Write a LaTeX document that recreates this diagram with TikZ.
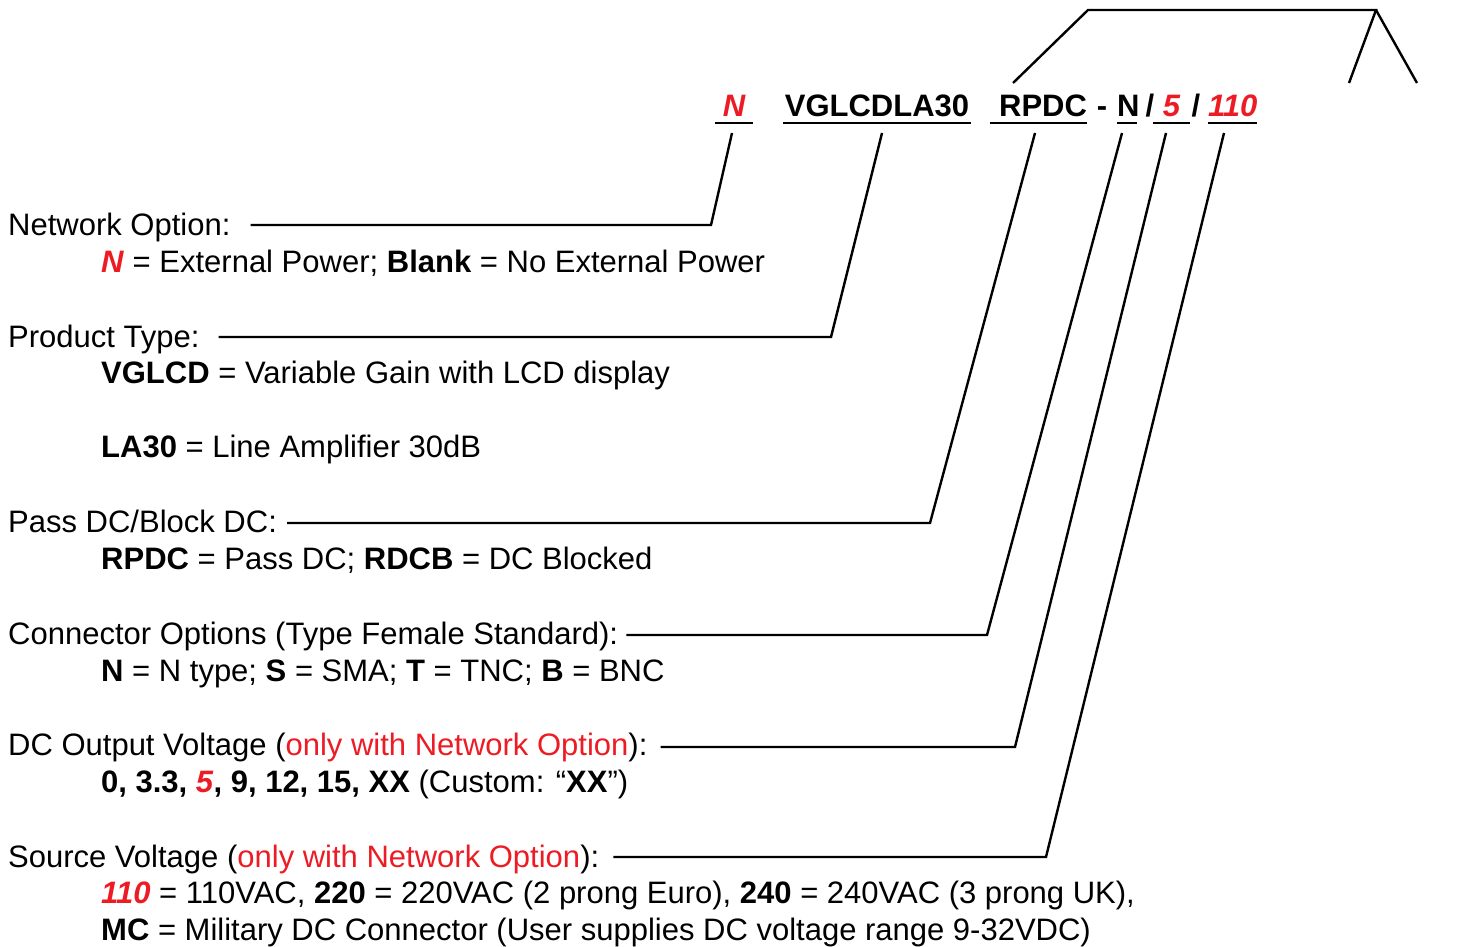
\documentclass[tikz,border=0pt]{standalone}
\usepackage{fontspec}
\setmainfont{Liberation Sans}
\usepackage{tikz}
\usetikzlibrary{calc}
\definecolor{optred}{RGB}{237,28,36}

\begin{document}
\fontsize{31}{36}\selectfont
\begin{tikzpicture}[x=1pt, y=-1pt,
    code/.style={
        anchor=base, inner sep=0pt,
        align=center,
        font=\bfseries
    },
    head/.style={anchor=base west, inner sep=0pt},
    desc/.style={anchor=base west, inner sep=0pt},
    lead/.style={line width=2.4pt, line join=miter},
    uline/.style={line width=2pt}
]
\useasboundingbox (0,0) rectangle (1458,947);

% part number
\node[code, text=optred, font=\bfseries\itshape, text width=38]
    (pNet) at (734,117) {N};
\node[code, text width=188]
    (pType) at (877,117) {VGLCDLA30};
\node[code, text width=97, align=right]
    (pDC) at (1038.5,117) {RPDC};
\node[code] (sDash) at (1102,117) {-};
\node[code, text width=20]
    (pConn) at (1127,117) {N};
\node[code] (sSlashA) at (1150,117) {/};
\node[code, text=optred, font=\bfseries\itshape, text width=37]
    (pOut) at (1171.5,117) {5};
\node[code] (sSlashB) at (1196,117) {/};
\node[code, text=optred, font=\bfseries\itshape, text width=49]
    (pSrc) at (1232.5,117) {110};

\foreach \p in {pNet,pType,pDC,pConn,pOut,pSrc}{
    \draw[uline] ([yshift=-6pt]\p.base west) -- ([yshift=-6pt]\p.base east);
}

% bracket over the part number
\coordinate (apex) at (1376,10);
\draw[lead] (1013,83) -- (1088,10) -- (apex) -- (1349,83);
\draw[lead] (apex) -- (1417,83);

% option headings
\node[head] (hNet) at (8,235) {Network Option:};
\node[desc] (dNet) at (101,272)
    {\textcolor{optred}{\textbf{\textit{N}}} = External Power; \textbf{Blank} = No External Power};
\node[head] (hType) at (8,347) {Product Type:};
\node[desc] (dTypeA) at (101,383)
    {\textbf{VGLCD} = Variable Gain with LCD display};
\node[desc] (dTypeB) at (101,457)
    {\textbf{LA30} = Line Amplifier 30dB};
\node[head] (hDC) at (8,532) {Pass DC/Block DC:};
\node[desc] (dDC) at (101,569)
    {\textbf{RPDC} = Pass DC; \textbf{RDCB} = DC Blocked};
\node[head] (hConn) at (8,644) {Connector Options (Type Female Standard):};
\node[desc] (dConn) at (101,681)
    {\textbf{N} = N type; \textbf{S} = SMA; \textbf{T} = TNC; \textbf{B} = BNC};
\node[head] (hOut) at (8,755)
    {DC Output Voltage (\textcolor{optred}{only with Network Option}):};
\node[desc] (dOut) at (101,792)
    {\textbf{0, 3.3, \textcolor{optred}{\textit{5}}, 9, 12, 15, XX} (Custom: “\textbf{XX}”)};
\node[head] (hSrc) at (8,867)
    {Source Voltage (\textcolor{optred}{only with Network Option}):};
\node[desc] (dSrcA) at (101,903)
    {\textcolor{optred}{\textbf{\textit{110}}} = 110VAC, \textbf{220} = 220VAC (2 prong Euro), \textbf{240} = 240VAC (3 prong UK),};
\node[desc] (dSrcB) at (101,940)
    {\textbf{MC} = Military DC Connector (User supplies DC voltage range 9-32VDC)};

% leader lines
\coordinate (tNet) at (732,133);   \coordinate (kNet) at (711,225);
\coordinate (tType) at (882,133);  \coordinate (kType) at (831,337);
\coordinate (tDC) at (1035,133);   \coordinate (kDC) at (930,523);
\coordinate (tConn) at (1122,133); \coordinate (kConn) at (987,635);
\coordinate (tOut) at (1166,133);  \coordinate (kOut) at (1015,747);
\coordinate (tSrc) at (1224,133);  \coordinate (kSrc) at (1046,857);

\foreach \t/\k/\h/\g in {tNet/kNet/hNet/20, tType/kType/hType/19,
                         tDC/kDC/hDC/10, tConn/kConn/hConn/8,
                         tOut/kOut/hOut/13, tSrc/kSrc/hSrc/14}{
    \draw[lead] (\t) -- (\k) -- ($(\k -| \h.east)+(\g,0)$);
}
\end{tikzpicture}
\end{document}
